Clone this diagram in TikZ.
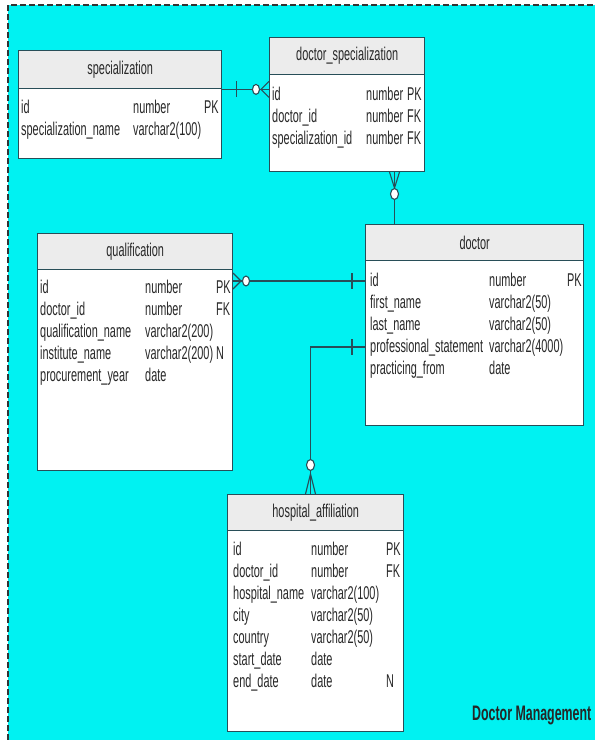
\documentclass[tikz,border=0pt]{standalone}
\usepackage{fontspec}
\setmainfont{Liberation Sans}[FakeStretch=0.59]
\usepackage{tikz}
\usetikzlibrary{calc}

\definecolor{bgcyan}{RGB}{0,242,242}
\definecolor{edgecol}{RGB}{40,78,88}
\definecolor{headgray}{RGB}{236,236,236}
\definecolor{txtcol}{RGB}{40,40,40}

\begin{document}
\begin{tikzpicture}[x=1pt, y=-1pt,
    every node/.style={font=\fontsize{18.5}{20}\selectfont, text=txtcol},
    tbl/.style={draw=edgecol, line width=1pt, fill=white, anchor=north west, inner sep=0},
    tblhead/.style={draw=edgecol, line width=1.4pt, fill=headgray, anchor=north west, inner sep=0},
    fld/.style={anchor=west, inner sep=0, text height=13pt, text depth=3pt},
    rel/.style={draw=edgecol, line width=1.1pt},
    ring/.style={draw=edgecol, line width=1.1pt, fill=white}]
    \useasboundingbox (0,0) rectangle (595,740);
    \fill[white] (0,0) rectangle (595,740);
    \fill[bgcyan] (8,5) rectangle (595,740);
    \draw[dash pattern=on 6pt off 3pt, black!80, line width=1.3pt] (8,740) -- (8,5) -- (595,5);

    % specialization
    \node[tbl, minimum width=203pt, minimum height=108pt] (spec) at (18,50) {};
    \node[tblhead, minimum width=203pt, minimum height=38pt] (spec-h) at (18,50) {specialization};
    \foreach \a/\b/\c [count=\i] in {id/number/PK, specialization\_name/varchar2(100)/}
    {
        \node[fld] (spec-a\i) at (21,{108+22*(\i-1)}) {\a};
        \node[fld] (spec-b\i) at (133,{108+22*(\i-1)}) {\b};
        \node[fld] (spec-c\i) at (204,{108+22*(\i-1)}) {\c};
    }

    % doctor_specialization
    \node[tbl, minimum width=155pt, minimum height=134pt] (dspec) at (269,37) {};
    \node[tblhead, minimum width=155pt, minimum height=37pt] (dspec-h) at (269,37) {doctor\_specialization};
    \foreach \a/\b/\c [count=\i] in {id/number/PK, doctor\_id/number/FK, specialization\_id/number/FK}
    {
        \node[fld] (dspec-a\i) at (272,{95+22*(\i-1)}) {\a};
        \node[fld] (dspec-b\i) at (366,{95+22*(\i-1)}) {\b};
        \node[fld] (dspec-c\i) at (407,{95+22*(\i-1)}) {\c};
    }

    % qualification
    \node[tbl, minimum width=195pt, minimum height=237pt] (qual) at (37,233) {};
    \node[tblhead, minimum width=195pt, minimum height=36pt] (qual-h) at (37,233) {qualification};
    \foreach \a/\b/\c [count=\i] in {id/number/PK, doctor\_id/number/FK,
        qualification\_name/varchar2(200)/, institute\_name/varchar2(200)/N,
        procurement\_year/date/}
    {
        \node[fld] (qual-a\i) at (40,{288+22*(\i-1)}) {\a};
        \node[fld] (qual-b\i) at (145,{288+22*(\i-1)}) {\b};
        \node[fld] (qual-c\i) at (216,{288+22*(\i-1)}) {\c};
    }

    % doctor
    \node[tbl, minimum width=218pt, minimum height=201pt] (doc) at (365,224) {};
    \node[tblhead, minimum width=218pt, minimum height=36pt] (doc-h) at (365,224) {doctor};
    \foreach \a/\b/\c [count=\i] in {id/number/PK, first\_name/varchar2(50)/,
        last\_name/varchar2(50)/, professional\_statement/varchar2(4000)/,
        practicing\_from/date/}
    {
        \node[fld] (doc-a\i) at (370,{281+22*(\i-1)}) {\a};
        \node[fld] (doc-b\i) at (489,{281+22*(\i-1)}) {\b};
        \node[fld] (doc-c\i) at (567,{281+22*(\i-1)}) {\c};
    }

    % hospital_affiliation
    \node[tbl, minimum width=176pt, minimum height=237pt] (ha) at (227,494) {};
    \node[tblhead, minimum width=176pt, minimum height=36pt] (ha-h) at (227,494) {hospital\_affiliation};
    \foreach \a/\b/\c [count=\i] in {id/number/PK, doctor\_id/number/FK,
        hospital\_name/varchar2(100)/, city/varchar2(50)/, country/varchar2(50)/,
        start\_date/date/, end\_date/date/N}
    {
        \node[fld] (ha-a\i) at (233,{550+22*(\i-1)}) {\a};
        \node[fld] (ha-b\i) at (311,{550+22*(\i-1)}) {\b};
        \node[fld] (ha-c\i) at (386,{550+22*(\i-1)}) {\c};
    }

    % specialization -- doctor_specialization
    \coordinate (sd) at (spec-h.south east -| dspec.west);
    \draw[rel] (spec-h.south east) -- (sd);
    \draw[rel] ($(spec-h.south east)+(14,-8)$) -- ++(0,16);
    \draw[rel] ($(sd)+(-8,0)$) -- ($(sd)+(0,-8)$) ($(sd)+(-8,0)$) -- ($(sd)+(0,8)$);
    \draw[ring] ($(sd)+(-13,0)$) ellipse (3.5pt and 5pt);

    % doctor_specialization -- doctor
    \coordinate (ds) at ([xshift=47.5pt]dspec.south);
    \coordinate (dd) at (ds |- doc.north);
    \draw[rel] (ds) -- (dd);
    \draw[rel] ($(ds)+(-5,0)$) -- ($(ds)+(0,16)$) -- ($(ds)+(5,0)$);
    \draw[ring] ($(ds)+(0,22)$) ellipse (4pt and 5.5pt);

    % qualification -- doctor
    \coordinate (qd) at (doc.west |- doc-a1);
    \coordinate (dq) at (qual.east |- doc-a1);
    \draw[rel] (dq) -- (qd);
    \draw[rel] ($(qd)+(-13,-8)$) -- ++(0,16);
    \draw[rel] ($(dq)+(8,0)$) -- ($(dq)+(0,-8)$) ($(dq)+(8,0)$) -- ($(dq)+(0,8)$);
    \draw[ring] ($(dq)+(13,0)$) ellipse (3.5pt and 5pt);

    % hospital_affiliation -- doctor
    \coordinate (hd) at (doc.west |- doc-a4);
    \coordinate (hatop) at ([xshift=-5pt]ha.north);
    \draw[rel] (hd) -| (hatop);
    \draw[rel] ($(hd)+(-13,-8)$) -- ++(0,16);
    \draw[rel] ($(hatop)+(-5,0)$) -- ($(hatop)+(0,-20)$) -- ($(hatop)+(5,0)$);
    \draw[ring] ($(hatop)+(0,-29)$) ellipse (4pt and 5.5pt);

    \node[font=\fontsize{21}{24}\selectfont\bfseries, text=black!85, anchor=base west, inner sep=0]
        (title) at (472,720) {Doctor Management};
\end{tikzpicture}
\end{document}
